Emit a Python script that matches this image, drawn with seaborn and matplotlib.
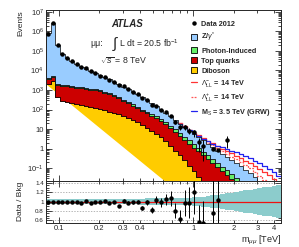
import numpy as np
import pandas as pd
import seaborn as sns
import matplotlib.pyplot as plt
from matplotlib.lines import Line2D
from matplotlib.patches import Patch
from matplotlib.ticker import FixedLocator, FuncFormatter, LogLocator, MultipleLocator, NullFormatter

# dimuon mass binning [TeV]
mass_lo, mass_hi, n_bins = 0.08, 4.5, 50
mass_edges = np.geomspace(mass_lo, mass_hi, n_bins + 1)

# stacked background levels (upper edge of each layer), events per bin
diboson_lvl = [2000, 2800, 450, 280, 240, 215, 190, 165, 150, 130,
               117, 105, 91, 79, 68, 58, 48, 38, 30, 22,
               16.6, 11.7, 8.3, 5.6, 3.7, 2.4, 1.3, 0.79, 0.45, 0.25,
               0.135, 0.071, 0.035, 0.018, 0.0089, 0.0045, 0.0022, 0.0011, 5.6e-4, 2.8e-4,
               1.4e-4, 7e-5, 3.5e-5, 1.8e-5, 9e-6, 4.5e-6, 2.2e-6, 1.1e-6, 5.6e-7, 2.8e-7]
top_lvl = [3550, 4700, 1780, 1660, 1580, 1480, 1320, 1200, 1120, 1050,
           955, 850, 725, 600, 480, 370, 280, 215, 158, 115,
           83, 63, 48, 35, 25, 17.8, 11.2, 7.1, 4.5, 2.8,
           1.78, 1.12, 0.71, 0.45, 0.28, 0.18, 0.11, 0.071, 0.045, 0.028,
           0.018, 0.011, 0.0071, 0.0045, 0.0028, 0.0018, 0.0011, 7.1e-4, 4.5e-4, 2.8e-4]
photon_lvl = [4000, 5250, 2000, 1860, 1780, 1660, 1480, 1350, 1260, 1175,
              1070, 955, 810, 675, 550, 425, 325, 245, 185, 135,
              100, 76, 58, 44, 32, 22.4, 14.8, 9.5, 6.2, 4.0,
              2.6, 1.66, 1.07, 0.69, 0.45, 0.29, 0.19, 0.12, 0.078, 0.05,
              0.032, 0.02, 0.0126, 0.0079, 0.005, 0.0032, 0.002, 0.00126, 7.9e-4, 5e-4]
total_bkg = [7.9e5, 2.8e6, 2.0e5, 7.1e4, 4.2e4, 3.0e4, 2.1e4, 1.6e4, 1.26e4, 9.5e3,
             7.4e3, 5.6e3, 4.4e3, 3.5e3, 2.6e3, 2.0e3, 1.5e3, 1.12e3, 830, 600,
             430, 300, 215, 150, 100, 68, 45, 30, 19, 12.6,
             8.3, 5.6, 3.8, 2.6, 1.8, 1.2, 0.79, 0.54, 0.35, 0.25,
             0.18, 0.126, 0.083, 0.054, 0.035, 0.022, 0.014, 0.009, 0.0056, 0.0035]

# signal + background predictions, from bin 28 upwards
signal_first_bin = 28
ll_minus = [20, 13.5, 9.3, 6.6, 4.7, 3.4, 2.5, 1.86, 1.35, 1.0, 0.76, 0.56,
            0.42, 0.32, 0.24, 0.178, 0.126, 0.089, 0.063, 0.042, 0.028, 0.018]
ll_plus = [19.5, 12.9, 8.7, 6.0, 4.1, 2.9, 2.0, 1.45, 1.02, 0.72, 0.52, 0.38,
           0.275, 0.2, 0.138, 0.095, 0.063, 0.04, 0.025, 0.016, 0.01, 0.0063]
grw = [19, 12.6, 8.5, 5.9, 4.2, 3.0, 2.3, 1.78, 1.41, 1.15, 0.95, 0.79,
       0.66, 0.54, 0.43, 0.32, 0.24, 0.178, 0.126, 0.089, 0.063, 0.04]

nan = np.nan
data_2012 = [7.8e5, 2.77e6, 1.98e5, 7.1e4, 4.16e4, 3.0e4, 2.06e4, 1.55e4, 1.27e4, 9.2e3,
             7.25e3, 5.5e3, 4.49e3, 3.4e3, 2.55e3, 1.82e3, 1.53e3, 1.09e3, 813, 600,
             374, 294, 176, 155, 98, 71, 48, 24, 12, 12.3,
             8.1, 6.7, 2.1, 1.43, nan, 0.9, 0.81, nan, 2.8, nan,
             nan, nan, nan, nan, nan, nan, nan, nan, nan, nan]
data_err = [890, 1660, 445, 266, 204, 173, 144, 124, 113, 96,
            85, 74, 67, 58, 50, 43, 39, 33, 28.5, 24.5,
            19.3, 17.1, 13.3, 12.4, 9.9, 8.4, 6.9, 4.9, 3.5, 3.5,
            2.8, 2.6, 1.45, 1.2, nan, 0.95, 0.9, nan, 1.7, nan,
            nan, nan, nan, nan, nan, nan, nan, nan, nan, nan]

# relative systematic uncertainty on the background
syst_err = [0.06] * 15 + [0.06, 0.06, 0.061, 0.062, 0.063, 0.064, 0.065, 0.066, 0.067, 0.068,
                          0.07, 0.072, 0.074, 0.077, 0.08, 0.085, 0.09, 0.097, 0.107, 0.118,
                          0.13, 0.145, 0.16, 0.175, 0.19, 0.205, 0.22, 0.237, 0.254, 0.27,
                          0.287, 0.303, 0.32, 0.337, 0.355]

processes = ["Z/$\\gamma^{*}$", "Photon-Induced", "Top quarks", "Diboson"]
colors = {"Z/$\\gamma^{*}$": "#99CCFF", "Photon-Induced": "#66EE66",
          "Top quarks": "#CC0000", "Diboson": "#FFCC00"}

sns.set_style("ticks")
plt.rcParams["font.family"] = ["Liberation Sans", "DejaVu Sans"]
plt.rcParams["mathtext.fontset"] = "custom"
plt.rcParams["mathtext.rm"] = "Liberation Sans"
plt.rcParams["mathtext.it"] = "Liberation Sans:italic"
plt.rcParams["mathtext.bf"] = "Liberation Sans:bold"

fig = plt.figure(figsize=(2.99, 2.47), dpi=100)
ax = fig.add_axes([0.1538, 0.2692, 0.786, 0.6903])
ax_r = fig.add_axes([0.1538, 0.0972, 0.786, 0.172], sharex=ax)

centers = np.sqrt(mass_edges[:-1] * mass_edges[1:])
log_range = (np.log10(mass_lo), np.log10(mass_hi))

# per-process contributions from the stacked levels
diboson = np.array(diboson_lvl)
top = np.array(top_lvl) - diboson
photon = np.array(photon_lvl) - np.array(top_lvl)
zgamma = np.array(total_bkg) - np.array(photon_lvl)

stack = pd.DataFrame({
    "mass": np.tile(centers, 4),
    "events": np.concatenate([zgamma, photon, top, diboson]),
    "process": np.repeat(processes, len(centers)),
})

sns.histplot(data=stack, x="mass", weights="events", hue="process",
             hue_order=processes, palette=colors, multiple="stack",
             element="step", bins=n_bins, binrange=log_range, log_scale=(True, True),
             alpha=1, edgecolor="black", linewidth=0.5, legend=False, ax=ax)

# signal curves
sig_x = centers[signal_first_bin:]
sig_range = (np.log10(mass_edges[signal_first_bin]), np.log10(mass_hi))
for vals, col, ls in [(ll_minus, "#FF3333", "-"), (ll_plus, "#FF5555", (0, (1.5, 1))),
                      (grw, "#2222EE", "-")]:
    sns.histplot(x=sig_x, weights=vals, bins=n_bins - signal_first_bin, binrange=sig_range,
                 element="step", fill=False, color=col, linestyle=ls, linewidth=0.9,
                 log_scale=(True, True), zorder=0.9, ax=ax)

data_arr = np.array(data_2012)
err_arr = np.array(data_err)
ax.errorbar(centers, data_arr, yerr=err_arr, fmt="o", color="black", ms=2.2,
            lw=0.7, capsize=0, zorder=5)

ax.set_xlim(mass_lo, mass_hi)
ax.set_ylim(0.023, 1.26e7)
ax.set_xlabel("")
ax.set_ylabel("Events", loc="top", fontsize=6)
ax.yaxis.set_label_coords(-0.094, 1.0)


def pow_fmt(v, pos):
    e = int(round(np.log10(v)))
    if e == 0:
        return "1"
    if e == 1:
        return "10"
    return f"$10^{{{e}}}$"


ax.yaxis.set_major_locator(LogLocator(base=10, numticks=20))
ax.yaxis.set_minor_locator(LogLocator(base=10, subs=np.arange(2, 10), numticks=20))
ax.yaxis.set_major_formatter(FuncFormatter(pow_fmt))
ax.yaxis.set_minor_formatter(NullFormatter())

# text block
ax.text(0.343, 0.918, "ATLAS", transform=ax.transAxes, ha="center", va="center",
        fontsize=7, weight="bold", style="italic")
ax.text(0.187, 0.806, "μμ:", transform=ax.transAxes,
        ha="left", va="center", fontsize=6.3)
ax.text(0.279, 0.80, r"$\int$", transform=ax.transAxes,
        ha="left", va="center", fontsize=11)
ax.text(0.312, 0.806, r"L dt = 20.5 fb$^{-1}$", transform=ax.transAxes,
        ha="left", va="center", fontsize=6.3)
ax.text(0.23, 0.70, r"$\sqrt{s}$ = 8 TeV", transform=ax.transAxes,
        ha="left", va="center", fontsize=6.3)

handles = [
    Line2D([], [], marker="o", color="black", ls="none", ms=2.2),
    Patch(facecolor=colors[processes[0]], edgecolor="black", lw=0.6),
    Patch(facecolor=colors[processes[1]], edgecolor="black", lw=0.6),
    Patch(facecolor=colors[processes[2]], edgecolor="black", lw=0.6),
    Patch(facecolor=colors[processes[3]], edgecolor="black", lw=0.6),
    Line2D([], [], color="#FF3333", lw=0.9),
    Line2D([], [], color="#FF5555", lw=0.9, ls=(0, (1.5, 1))),
    Line2D([], [], color="#2222EE", lw=0.9),
]
labels = ["Data 2012", processes[0], processes[1], processes[2], processes[3],
          r"$\Lambda^{-}_{\rm LL}$ = 14 TeV", r"$\Lambda^{+}_{\rm LL}$ = 14 TeV",
          r"M$_{\rm S}$ = 3.5 TeV (GRW)"]
ax.legend(handles, labels, loc="upper left", bbox_to_anchor=(0.617, 0.937),
          frameon=False, prop=dict(weight="bold", size=5.2), handlelength=0.9,
          handleheight=0.9, handletextpad=0.5, labelspacing=0.38,
          borderpad=0, borderaxespad=0)

# ratio panel
bkg_arr = np.array(total_bkg)
syst = np.array(syst_err)
ratio = data_arr / bkg_arr
ratio_err = err_arr / bkg_arr
ax_r.fill_between(mass_edges, np.append(1 - syst, 1 - syst[-1]),
                  np.append(1 + syst, 1 + syst[-1]), step="post",
                  color="#8CCCCC", lw=0, zorder=1)
for lvl in [0.6, 0.8, 1.2, 1.4]:
    ax_r.axhline(lvl, color="#999999", lw=0.5, ls=(0, (2, 2)), zorder=0.5)
ax_r.axhline(1.0, color="#EE1111", lw=0.9, zorder=2)
ax_r.errorbar(centers, ratio, yerr=ratio_err, fmt="o", color="black", ms=2.2,
              lw=0.7, capsize=0, zorder=5)

ax_r.set_ylim(0.54, 1.45)
ax_r.set_ylabel("Data / Bkg", fontsize=6)
ax_r.yaxis.set_label_coords(-0.094, 0.5)
ax_r.set_xlabel(r"m$_{\mu\mu}$ [TeV]", loc="right", fontsize=6.5, labelpad=1)
ax_r.yaxis.set_major_locator(FixedLocator([0.6, 0.8, 1.0, 1.2, 1.4]))
ax_r.yaxis.set_major_formatter(FuncFormatter(lambda v, p: f"{v:g}"))
ax_r.yaxis.set_minor_locator(MultipleLocator(0.05))

ax_r.xaxis.set_major_locator(FixedLocator([0.1, 1.0]))
ax_r.xaxis.set_minor_locator(FixedLocator([0.08, 0.09, 0.2, 0.3, 0.4, 0.5, 0.6, 0.7,
                                           0.8, 0.9, 2, 3, 4]))
ax_r.xaxis.set_major_formatter(FuncFormatter(lambda v, p: f"{v:g}"))
ax_r.xaxis.set_minor_formatter(FuncFormatter(
    lambda v, p: f"{v:g}" if v in (0.2, 0.3, 0.4, 2, 3, 4) else ""))
ax.tick_params(axis="x", which="both", labelbottom=False)

for a in (ax, ax_r):
    a.tick_params(which="both", direction="in", top=True, right=True,
                  labelsize=5.5, width=0.6, pad=1.5)
    a.tick_params(which="major", length=4)
    a.tick_params(which="minor", length=2)
    for s in a.spines.values():
        s.set_linewidth(0.7)
ax_r.tick_params(axis="y", labelsize=4.5, pad=1.5)

fig.savefig("out.png", dpi=100)
